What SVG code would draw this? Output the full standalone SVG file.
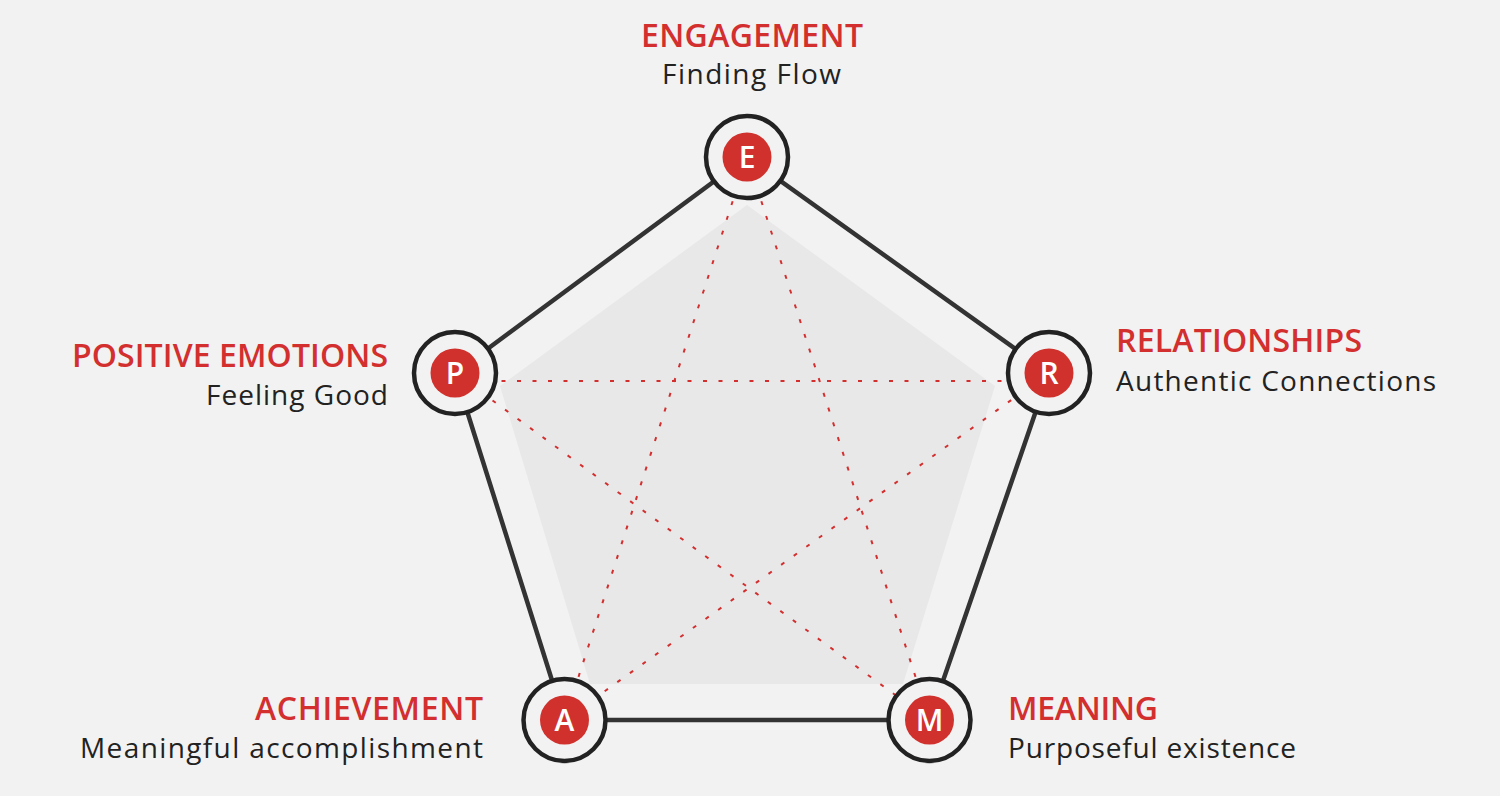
<svg xmlns="http://www.w3.org/2000/svg" width="1500" height="796" viewBox="0 0 1500 796">
<style>
.title{font-family:"Open Sans","Liberation Sans",sans-serif;font-size:32px;font-weight:600;fill:#d32f2f}
.sub{font-family:"Open Sans","Liberation Sans",sans-serif;font-size:28px;font-weight:500;fill:#222}
.ring{fill:#f2f2f2;stroke:#222;stroke-width:4.5}
.dot{fill:#d0312d}
.letter{font-family:"Open Sans","Liberation Sans",sans-serif;font-size:30px;font-weight:600;fill:#fff;text-anchor:middle}
.edge{stroke:#333;stroke-width:4.5;fill:none}
.star{stroke:#d32f2f;stroke-width:2;stroke-dasharray:4 11.5;fill:none}
</style>
<rect width="1500" height="796" fill="#f2f2f2"/>
<polygon points="747,205 995,386 903,684 590,684 500,386" fill="#e8e8e8"/>
<g id="connectors">
<polygon class="edge" points="747,157 1049,373 929.5,720 564.5,720 455,373"/>
<line class="star" x1="747" y1="157" x2="564.5" y2="720"/>
<line class="star" x1="747" y1="157" x2="929.5" y2="720"/>
<line class="star" x1="455" y1="381" x2="1049" y2="381"/>
<line class="star" x1="455" y1="373" x2="929.5" y2="720"/>
<line class="star" x1="1049" y1="373" x2="564.5" y2="720"/>
</g>
<g id="node-E">
<circle class="ring" cx="747" cy="157" r="41"/>
<circle class="dot" cx="747" cy="157" r="24.5"/>
<text class="letter" x="747" y="168">E</text>
<text class="title" x="752" y="47" text-anchor="middle" textLength="222">ENGAGEMENT</text>
<text class="sub" x="751.5" y="84" text-anchor="middle" textLength="179">Finding Flow</text>
</g>
<g id="node-P">
<circle class="ring" cx="455" cy="373" r="41"/>
<circle class="dot" cx="455" cy="373" r="24.5"/>
<text class="letter" x="455" y="384">P</text>
<text class="title" x="388" y="367" text-anchor="end" textLength="316">POSITIVE EMOTIONS</text>
<text class="sub" x="388" y="405" text-anchor="end" textLength="182">Feeling Good</text>
</g>
<g id="node-R">
<circle class="ring" cx="1049" cy="373" r="41"/>
<circle class="dot" cx="1049" cy="373" r="24.5"/>
<text class="letter" x="1049" y="384">R</text>
<text class="title" x="1116" y="352" textLength="246">RELATIONSHIPS</text>
<text class="sub" x="1116" y="391" textLength="320">Authentic Connections</text>
</g>
<g id="node-A">
<circle class="ring" cx="564.5" cy="720" r="41"/>
<circle class="dot" cx="564.5" cy="720" r="24.5"/>
<text class="letter" x="564.5" y="731">A</text>
<text class="title" x="483" y="720" text-anchor="end" textLength="228">ACHIEVEMENT</text>
<text class="sub" x="483" y="758" text-anchor="end" textLength="403">Meaningful accomplishment</text>
</g>
<g id="node-M">
<circle class="ring" cx="929.5" cy="720" r="41"/>
<circle class="dot" cx="929.5" cy="720" r="24.5"/>
<text class="letter" x="929.5" y="731">M</text>
<text class="title" x="1008" y="720" textLength="150">MEANING</text>
<text class="sub" x="1008" y="758" textLength="288">Purposeful existence</text>
</g>
</svg>
